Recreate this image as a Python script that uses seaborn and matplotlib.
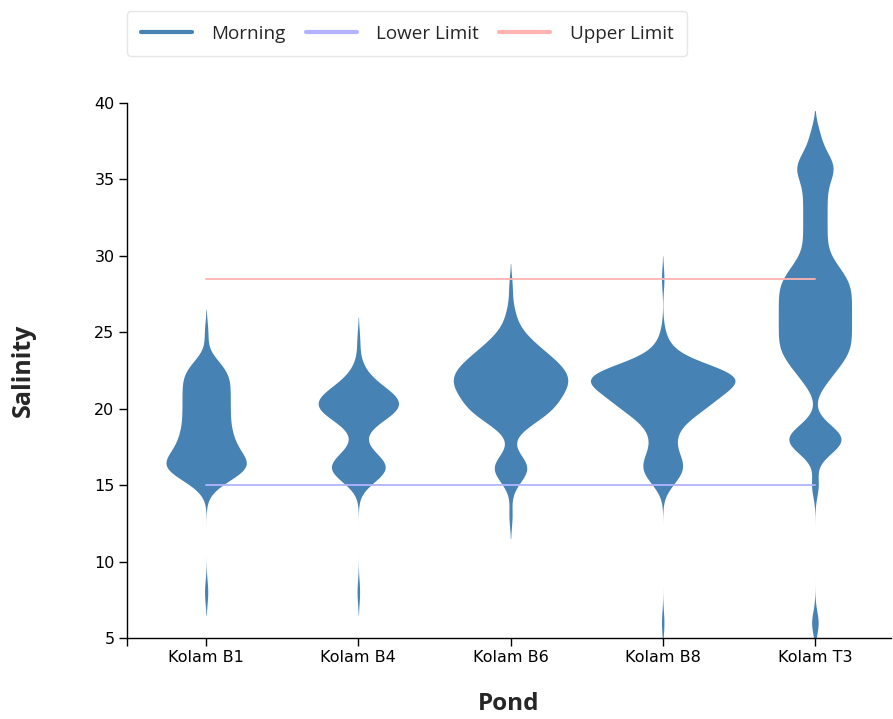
import numpy as np
import pandas as pd
import matplotlib
matplotlib.use("Agg")
import matplotlib.pyplot as plt
import seaborn as sns
from matplotlib.lines import Line2D

# ---------------- data ----------------
ponds = ["Kolam B1", "Kolam B4", "Kolam B6", "Kolam B8", "Kolam T3"]

b1_values = [8, 15, 15.5, 16, 16.5, 17, 17.5, 18, 18.5, 19, 19.5, 20, 20.5, 21, 21.5, 22, 22.5, 23, 25]
b1_counts = [1, 2, 4, 9, 9, 5, 5, 5, 4, 4, 4, 4, 4, 4, 4, 4, 4, 3, 1]

b4_values = [8, 15, 15.5, 16, 16.5, 17, 17.5, 18, 18.5, 19, 19.5, 20, 20.5, 21, 21.5, 22, 22.5, 23, 24.5]
b4_counts = [1, 1, 5, 9, 7, 4, 1, 1, 1, 3, 7, 11, 10, 9, 4, 3, 1, 1, 1]

b6_values = [13, 15, 15.5, 16, 16.5, 17, 18.5, 19, 19.5, 20, 20.5, 21, 21.5, 22, 22.5, 23, 23.5, 24, 24.5, 25, 25.5, 26, 26.5, 28]
b6_counts = [1, 1, 2, 5, 4, 1, 1, 4, 6, 9, 8, 9, 11, 11, 10, 9, 7, 5, 4, 2, 1, 1, 1, 1]

b8_values = [6, 15, 15.5, 16, 16.5, 17, 17.5, 18, 18.5, 19, 19.5, 20, 20.5, 21, 21.5, 22, 22.5, 23, 23.5, 24, 25, 28.5]
b8_counts = [1, 2, 4, 6, 5, 4, 2, 3, 3, 4, 6, 11, 11, 13, 15, 23, 18, 6, 2, 3, 1, 1]

t3_values = [6, 15, 17, 17.5, 18, 18.5, 19, 21.5, 22, 22.5, 23, 23.5, 24, 24.5, 25, 25.5,
             26, 26.5, 27, 27.5, 28, 28.5, 29, 29.5, 30, 30.5, 31, 31.5, 32, 32.5, 33,
             33.5, 34, 34.5, 35, 35.5, 36, 36.5, 37, 38]
t3_counts = [1, 1, 1, 2, 4, 2, 1, 1, 1, 2, 2, 3, 3, 3, 3, 3,
             3, 3, 3, 3, 3, 3, 2, 2, 1, 1, 1, 1, 1, 1, 1,
             1, 1, 1, 1, 2, 2, 1, 1, 1]

lower_limit = [15, 15, 15, 15, 15]
upper_limit = [28.5, 28.5, 28.5, 28.5, 28.5]

y_ticks = [5, 10, 15, 20, 25, 30, 35, 40]
legend_labels = ["Morning", "Lower Limit", "Upper Limit"]

# ---------------- build long table ----------------
groups = [(b1_values, b1_counts), (b4_values, b4_counts), (b6_values, b6_counts),
          (b8_values, b8_counts), (t3_values, t3_counts)]
frames = []
for name, (vals, cnts) in zip(ponds, groups):
    obs = np.repeat(np.asarray(vals, dtype=float), cnts)
    frames.append(pd.DataFrame({"Pond": name, "Salinity": obs}))
df = pd.concat(frames, ignore_index=True)

# ---------------- style ----------------
VIOLIN = "#4682b4"
LOWER = "#b3b3ff"
UPPER = "#ffb3b3"
KDE_BW = 0.75


def fixed_bw(kde):
    return KDE_BW / np.std(kde.dataset, ddof=1)


sns.set_style("ticks")
plt.rcParams["font.family"] = ["DejaVu Sans"]

fig = plt.figure(figsize=(8.93, 7.19), dpi=100)
ax = fig.add_axes([127 / 893, 1 - 638 / 719, 764 / 893, 535 / 719])

sns.violinplot(data=df, x="Pond", y="Salinity", order=ponds, color=VIOLIN,
               saturation=1, inner=None, linewidth=0, density_norm="count",
               bw_method=fixed_bw, cut=2, gridsize=400, width=0.95, ax=ax)

xs = np.arange(len(ponds))
ax.plot(xs, lower_limit, color=LOWER, lw=1.3, zorder=4)
ax.plot(xs, upper_limit, color=UPPER, lw=1.3, zorder=4)

ax.set_xlim(-0.52, 4.5)
ax.set_ylim(5, 40)
ax.set_yticks(y_ticks)
ax.set_yticklabels([str(t) for t in y_ticks])
ax.set_xticks(xs)
ax.set_xticklabels(ponds)
ax.set_xticks([-0.52], minor=True)
ax.tick_params(axis="x", which="minor", length=6, width=1, color="black")

for side in ["top", "right"]:
    ax.spines[side].set_visible(False)
for side in ["left", "bottom"]:
    ax.spines[side].set_linewidth(1.0)
    ax.spines[side].set_color("black")

ax.tick_params(axis="both", which="major", length=6, width=1, color="black",
               labelsize=11.5, pad=3, labelcolor="black")

ax.set_xlabel("Pond", fontsize=17.5, fontweight="bold", family=["Open Sans", "DejaVu Sans"])
ax.set_ylabel("Salinity", fontsize=18, fontweight="bold", family=["Open Sans", "DejaVu Sans"])
ax.xaxis.set_label_coords(0.5, (638 - 692) / 535)
ax.yaxis.set_label_coords((36 - 127) / 764, 0.5)

handles = [Line2D([0], [0], color=c, lw=3) for c in (VIOLIN, LOWER, UPPER)]
leg = fig.legend(handles, legend_labels, loc="upper left",
                 bbox_to_anchor=(127 / 893, 1 - 11 / 719), ncol=3, frameon=True,
                 fancybox=True, prop={"family": ["Open Sans", "DejaVu Sans"], "size": 13.6},
                 handlelength=2.7, handletextpad=1.05, columnspacing=1.05,
                 borderpad=0.72, borderaxespad=0)
leg.get_frame().set_edgecolor("#e0e0e0")
leg.get_frame().set_linewidth(1.0)

fig.savefig("out.png", dpi=100)
